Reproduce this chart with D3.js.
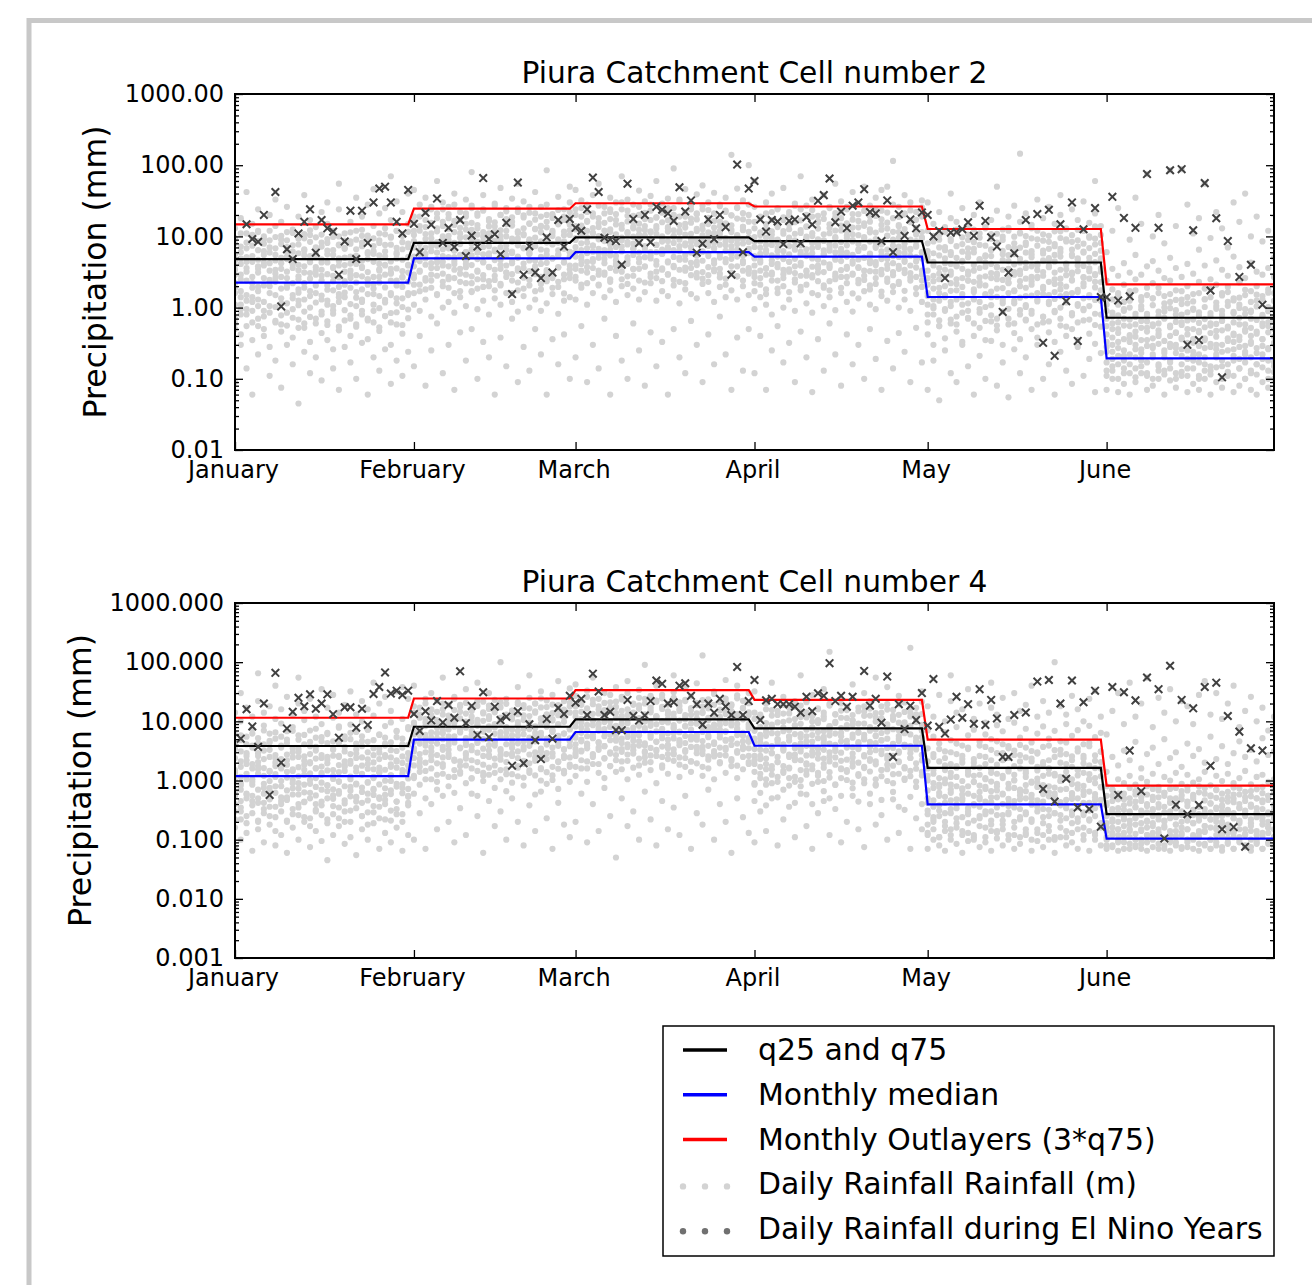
<!DOCTYPE html>
<html>
<head>
<meta charset="utf-8">
<script src="https://cdn.jsdelivr.net/npm/d3@7"></script>
<style>
  body { margin: 0; background: #fff; }
  svg { font-family: "DejaVu Sans", sans-serif; }
</style>
</head>
<body>
<svg id="chart" width="1312" height="1285"></svg>
<script>
// month ticks (day of year, 0 = 1 January)
const months = ["January", "February", "March", "April", "May", "June"];
const monthStartDay = [0, 31, 59, 90, 120, 151];
const lastDay = 180;

// monthly statistics (mm), one value per month
const cell2Q75 = [4.8, 8.1, 9.7, 8.6, 4.3, 0.72];
const cell2Median = [2.24, 4.9, 6.0, 5.2, 1.41, 0.194];
const cell2Outlier = [14.8, 24.5, 29.2, 26.3, 12.7, 2.12];

const cell4Q75 = [3.83, 8.1, 10.8, 7.6, 1.64, 0.27];
const cell4Median = [1.19, 4.9, 6.6, 3.87, 0.395, 0.104];
const cell4Outlier = [11.5, 24.3, 33.8, 23.1, 4.89, 0.82];

// daily rainfall (mm): row i holds the values plotted on day i
const cell2Daily = [
  [.09,.5,.7,1.6,2.2,3.9,4.6,8,13],[.3,.42,1.1,1.4,2.9,6,7.2,18],[.14,.8,.95,2.4,3.2,5.1,11,42],[.06,.35,.62,1.2,1.9,4.4,9.6,15],
  [.22,.55,1.3,1.7,3.5,3.8,6.4,12,24],[.4,.75,.9,2.6,5.5,7.9,10],[.11,.28,1.05,2,2.3,4.2,8.8,20],[.18,.65,1.5,3,3.4,6.8,14,33],
  [.075,.46,.58,1.15,2.7,5,9,16],[.3,.85,1.9,2.1,4.8,6.1,11.5,26],[.16,.38,.72,1.35,3.6,7.5,12.5],[.045,.52,1.25,1.8,2.5,4,5.8,19],
  [.24,.6,.88,2.2,3.1,6.6,9.4,38],[.12,.33,1,1.45,4.6,5.3,10.5,17],[.2,.7,1.6,2.9,3.3,7,13.5],[.095,.44,.8,1.3,2.4,4.3,8.2,22],
  [.35,.57,1.1,2.05,5.6,6.3,15,30],[.14,.26,.92,1.75,2.8,3.7,9.8,12],[.07,.48,1.2,1.55,3.9,4.9,7.7,24,55],[.28,.66,1.4,2.35,3.2,6.9,11],
  [.17,.4,.78,1.9,2.6,5.2,8.5,16],[.1,.54,1.05,1.65,4.1,4.7,12,35],[.32,.9,1.3,2.75,3.6,7.3,10.2,19],[.06,.36,.7,2.1,2.5,5.7,9.1,28],
  [.2,.62,1.55,1.85,4.4,6.2,14,46],[.13,.47,.98,2.25,3.3,5.4,8.1,21],[.26,.76,1.18,2.9,4,7.6,13,25],[.085,.3,.84,1.5,3.1,3.5,9.9,17,70],
  [.18,.58,1.35,2.4,4.9,5.9,12,31],[.11,.43,1.02,1.95,2.7,6.6,10.8,22],[.24,.71,1.6,3.1,3.9,7.9,15,40],
  [.15,1.1,2.1,2.6,4.6,7,12,19,45],[.4,.9,1.7,3.3,5.6,6.4,14,28],[.08,1.3,2.4,4,4.9,9.2,17,35],[.25,.75,1.9,2.9,6.2,8.1,11,24],
  [.6,1.5,3.6,4.3,7.4,13,21,60],[.12,1,2,3,5.3,10,16,30],[.3,1.2,2.7,3.8,6.8,8.9,18,26],[.07,.85,1.6,4.5,5.1,11.5,14.5,40],
  [.45,1.4,2.3,3.5,7.9,9.6,22],[.18,1.05,2.9,4.1,6,12.5,19,33],[.5,1.7,2.2,5.4,6.6,10.5,15.5,27,80],[.1,.95,1.85,3.2,4.8,8.4,13,21],
  [.33,1.25,2.5,4.4,7.1,9.9,24,38],[.2,.8,2,3.7,5.8,11,16.5],[.06,1.35,2.8,3.4,6.5,8.7,13.8,29],[.38,1.1,2.15,4.7,5.5,10.2,20,48],
  [.15,1.6,3.1,3.9,7.6,12,17.5,25],[.7,1.2,2.4,4.2,6.1,9.3,14.2,34],[.09,.88,1.75,3.3,5.2,8,11.8,22,55],[.28,1.45,2.65,3.6,6.9,10.8,18.5,31],
  [.13,1,2.05,4.6,5.7,9.1,15,26],[.5,1.3,2.95,3.5,7.3,12.8,21,42],[.22,.9,1.8,4.1,5,8.5,13.5,19],[.06,1.15,2.35,3.1,6.3,9.8,16,28,85],
  [.36,1.55,2.6,4.9,7.8,11.2,20.5],[.16,.82,1.95,3.7,5.4,8.2,14.8,36],[.42,1.25,2.5,4.3,6.7,10.4,17,24],[.1,1.4,3,3.9,6,12.2,18,30,50],
  [.2,1.3,2.7,3.9,6,9.5,14,24,45],[.55,1.9,3.3,5.2,8,10.8,19,32],[.09,1.1,2.2,4.4,6.8,12,16.5,28],[.3,1.6,3.6,4.8,7.4,11,21,38],
  [.14,2.1,2.9,5.8,9.1,13.5,18,55],[.7,1.4,3.1,4.2,6.4,10.2,15.5,26],[.06,1.75,2.5,5.4,8.4,12.6,22,35],[.4,1.2,3.9,4.6,7.1,9.8,17,30],
  [.18,2,3.2,6.2,8.8,14.5,24,70],[.1,1.5,2.75,4.1,7.7,11.5,19.5,33],[.6,1.85,3.5,5.5,6.6,13,16,28],[.25,1.3,2.4,4.9,8.2,10.6,20,44],
  [.08,1.65,3.8,5.1,7,12.3,17.5,31],[.45,2.2,3,6,9.4,11.8,23,37],[.15,1.25,2.6,4.5,7.6,14,18.5,60],[.33,1.7,3.4,5.7,6.5,10,21.5,29],
  [.06,1.45,2.9,4.3,8.6,13,16.8,34],[.5,2.05,3.7,6.4,9.9,12.2,25,90],[.2,1.15,2.3,5,7.3,11.3,19,33],[.12,1.8,3.3,4.7,8,15,22,46],
  [.65,1.55,3.6,5.9,7.2,10.9,17.8,27],[.3,1.35,2.65,4.4,9,12.8,20.5,39],[.09,2.15,3.15,6.1,7.9,14.2,24,52],[.42,1.6,2.85,5.3,8.3,11.4,18.2,30],
  [.16,1.2,3.45,4.6,6.9,13.3,21,41],[.75,1.95,3,5.6,9.6,11.9,16.2,28],[.22,1.4,2.55,4.8,7.5,14.8,23,35],[.07,1.75,3.8,6.3,8.7,12.4,19.8,140],
  [.38,1.3,2.75,5.2,7.8,10.4,25,47],[.13,2,3.3,4.5,9.2,13.6,17.4,32],[.5,1.5,3,5.8,6.7,11.6,20,100],
  [.12,.95,2.2,3.1,5.3,8.4,13,26,60],[.4,1.4,2.6,4.6,6.9,10.5,18],[.07,1.1,1.8,3.6,5.9,9.6,15,30],[.25,.8,2.9,4.1,7.6,11.8,22,40],
  [.55,1.6,2.4,5.2,6.2,9,14.5,25],[.17,1,2,3.4,4.8,10.9,17,48],[.32,1.3,3.2,4.4,7.3,12.6,20],[.09,.9,2.5,3.8,6.5,8.6,15.8,29],
  [.46,1.75,2.8,5.6,8.1,11.2,24,70],[.2,1.15,2.1,3.3,5.5,9.3,13.6,27],[.065,.85,2.65,4.9,6.8,10.1,19,33],[.36,1.5,3.1,3.9,7.9,12.9,16.4],
  [.13,1.05,1.9,4.3,5.7,8.8,21,38],[.6,1.4,2.35,3.6,6.3,11.1,14.8,26],[.22,.92,3,4.7,7.4,9.8,18.6,55],[.08,1.6,2.7,5.4,6.1,12.1,22.5,31],
  [.42,1.2,2.2,3.5,5.9,9.5,15.2,24],[.16,.88,2.9,4.5,8.5,10.7,17.2,42],[.3,1.35,2.45,3.7,6.6,13.4,20.5,29],[.1,1.7,3.3,5,7.1,9.2,14.1,50],
  [.5,1.1,2.05,4.2,5.6,11.4,16.1,27],[.19,.95,2.6,3.2,6.9,8.3,19.4,35],[.07,1.45,3.4,4.8,7.7,12.4,23,45],[.34,1.25,2.3,4,5.4,10.3,15.6,50],
  [.14,1.65,2.85,5.3,6.4,9,18,115],[.44,1,2.15,3.5,7.2,11.5,14.4,26],[.24,1.3,3.05,4.4,5.8,12.7,21,38],[.09,.9,2.4,3.9,6.7,8.9,16.6,30],
  [.52,1.55,2.7,5.1,7.5,10.6,13.2,22],[.17,1.2,1.95,3.3,6,9.7,19,32],
  [.07,.42,.8,1.6,2.1,4.6,6.2,12,30],[.18,.3,1.05,1.3,2.8,3.9,8.5,15],[.05,.55,.66,1.9,2.5,5.4,10.5,22],[.25,.37,.95,1.5,3.4,4.2,7.1,13.5],
  [.12,.6,1.2,2.2,2.9,6,9.2,18,40],[.09,.46,.75,1.75,3.9,5,11.5,16],[.3,.33,1.1,1.4,2.6,4.4,7.8,25],[.15,.7,.9,2.4,3.2,5.8,8.9,14],
  [.06,.4,1.3,1.65,2.3,6.7,12.5,20],[.21,.52,.85,2.05,3.6,4.8,9.6,30],[.1,.35,1.02,1.55,2.75,5.2,7.4,13],[.34,.64,1.4,2.6,4.1,6.4,10.8,17],
  [.08,.48,.7,1.85,3,3.7,8.2,23,50],[.17,.3,1.15,1.35,2.45,5.6,9.9,12.5],[.055,.58,.96,2.25,3.5,4.5,13.2,19],[.26,.44,1.25,1.7,2.9,6.9,8,27],
  [.12,.36,.8,2,3.3,4.3,11,16,145],[.2,.68,1.08,1.45,2.55,5.9,7.6,21],[.07,.5,.9,2.35,3.8,5.1,9.4,14.5],[.3,.38,1.3,1.6,2.7,4.1,12,33],
  [.1,.62,.74,1.95,3.15,6.3,8.7,18],[.16,.45,1.2,1.5,3.7,4.7,10.2,26],[.06,.33,.86,2.15,2.5,5.5,7.3,15],[.24,.56,1,1.8,3.4,6.7,11.8,20,38],
  [.13,.4,1.35,1.55,2.85,4,9.1,13],[.085,.5,.78,2.4,3.1,5.3,8.4,24],[.28,.35,1.12,1.65,3.9,4.9,12.4,17],[.11,.66,.92,2,2.65,6.1,7.9,31],
  [.19,.43,1.05,1.4,3.25,4.4,10,15.5],[.065,.31,.82,2.3,2.95,5.7,9.3,21,60],[.23,.54,1.25,1.75,3.55,4.6,8.1,14],
  [.07,.13,.28,.42,.9,1.3,2.4,6],[.1,.19,.24,.6,.75,1.8,3.5,12],[.065,.16,.33,.5,1.1,1.5,2.8,25],[.085,.12,.21,.7,.95,2.1,4.2],
  [.06,.22,.38,.55,1.25,1.7,3.1,9],[.09,.14,.3,.46,.82,2.5,5.5,35],[.12,.18,.26,.65,1.05,1.4,2.9,15],[.07,.11,.35,.52,.78,1.9,3.8,75],
  [.08,.2,.29,.58,1.35,2.2,4.5,10],[.1,.15,.4,.48,.88,1.6,3.3,20],[.06,.13,.23,.72,1,1.45,2.6,8],[.095,.17,.31,.56,1.2,2.4,5,85],
  [.075,.12,.27,.44,.92,1.75,3.6,14],[.11,.21,.36,.62,.8,1.3,2.7,88],[.065,.14,.25,.5,1.15,2,4.1,28],[.085,.18,.32,.68,.97,1.55,3,11],
  [.07,.11,.22,.45,.86,2.3,6.5,18],[.1,.16,.37,.53,1.3,1.85,3.9,55],[.06,.13,.28,.6,.76,1.4,2.5,9.5],[.09,.2,.3,.47,1.05,2.1,4.6,22],
  [.075,.15,.24,.66,.9,1.6,3.4,13],[.11,.12,.34,.51,1.2,1.95,2.8,7],[.065,.18,.26,.43,.83,1.35,5.2,30],[.08,.14,.39,.58,1.1,2.25,3.7,16],
  [.1,.22,.29,.49,.95,1.5,2.6,40],[.07,.12,.33,.7,.87,1.7,4.3,10],[.06,.16,.23,.46,1.25,2,3.2,19],[.09,.19,.36,.55,.79,1.45,2.9,8.5],
  [.075,.13,.27,.62,1.02,1.8,3.6,12],[.1,.17,.31,.5,.93,1.6,2.7,5]
];

// further daily values (mm) for the same days, the dense core of the cloud
const cell2DailyMore = [
  [.6,1.1,1.9,2.9,3.4,5.6,9.5],[.8,.95,1.7,2.5,4.1,4.9,11],[.55,1.25,1.5,3.6,4.4,6.8,8.2],[.9,1.4,2.2,2.7,5.3,7.4,10.5],
  [.7,1.05,1.95,3.1,4.7,8.6,11.5],[.5,1.2,2.05,3.9,4.3,6.2,9.1],[.85,1.6,2.45,3.3,5.9,7,12],[.62,1.02,2.3,2.6,4.6,5.5,9.8],
  [.78,1.35,1.85,3.5,4.2,7.8,10.2],[.56,1.15,2.6,3.2,5.2,7.1,8.8],[.95,1.5,2.2,4.05,4.9,6.1,11.2],[.68,1.08,1.62,2.75,3.35,7.7,9.3],
  [.52,1.3,1.9,3.8,5.4,6.3,10.8],[.74,1.7,2.55,3.05,4.35,8.4,12.2],[.6,1.18,2.05,3.7,5.1,5.8,9.7],[.88,1.48,2.8,3.4,4.75,7.2,10.6],
  [.64,1.25,1.78,2.95,4.3,8.1,9.2],[.82,1.05,2.35,3.6,5.5,6.4,11.7],[.54,1.4,1.95,2.65,4.5,7.5,10],[.92,1.62,2.1,3.95,5.05,6.7,8.7],
  [.7,1.12,2.9,3.3,4.15,7.9,11.4],[.58,1.38,2.25,2.85,5.35,6.6,9],[.8,1.2,1.8,3.75,4.55,8.2,12.4],[.66,1.55,2.5,3.15,4.8,6,10.3],
  [.9,1.1,2.15,2.7,5.7,7.3,9.4],[.53,1.45,2.7,3.45,4.1,8.8,11],[.76,1.28,1.92,3.9,5.25,6.15,10.7],[.62,1.6,2.4,3,4.45,7.65,9.6],
  [.86,1.15,2.05,3.55,5.6,6.9,12],[.57,1.35,2.65,3.25,4.7,8.3,10.1],[.94,1.5,2.3,4,5.15,7.05,11.6],
  [1.6,2.9,3.8,5.2,8.6,10.5,16],[2.1,3.2,4.5,6.1,7.8,12,19],[1.8,2.6,5.7,6.9,10.8,13.5,22],[2.4,3.6,4.2,7.2,9.4,15.5,26],
  [1.55,2.8,4.8,5.9,8.3,11.8,18],[2.3,3.9,4.4,6.6,9,14,24],[1.9,2.5,5.1,7.6,10.2,12.8,20.5],[2.6,3.4,4.1,6.3,8.1,16.5,28],
  [1.7,3,5.5,7.8,11,13.2,17],[2.2,3.7,4.6,6,9.7,15,21],[1.65,2.75,3.95,7.9,8.8,12.4,25],[2.5,3.3,5.9,6.7,10.6,14.4,19.5],
  [1.95,2.85,4.3,5.6,8.5,11.5,23],[2.35,3.75,5.3,7.3,9.9,13.8,17.5],[1.75,2.45,4.65,6.2,11.8,15.8,27],[2.05,3.5,4,7.05,8.95,12.2,20],
  [2.7,3.1,5.4,6.45,10,14.8,22.5],[1.6,2.95,4.45,5.8,8.4,16,18.5],[2.25,3.55,5,7.5,9.3,11.2,24.5],[1.85,2.65,4.15,6.8,10.4,13,19.8],
  [2.45,3.25,5.75,6.25,8.7,15.2,21.5],[1.7,3.8,4.55,7.4,9.6,12.6,17.2],[2.15,2.7,5.15,6.55,11.4,14.1,26],[2.55,3.35,4.25,5.5,8.2,13.4,20],
  [1.9,3.05,4.9,7.7,10.1,12,18.2],[2.3,3.65,5.6,6.35,9.1,16.2,23.5],[1.58,2.9,4.35,7.15,8.55,11.7,19],[2.6,3.45,5.25,6.05,10.5,14.6,22],
  [2.4,3.5,5.2,7.1,8.9,12.5,20],[2.1,4.1,4.7,6.4,10.5,14.2,25],[3.1,3.7,5.8,8.2,9.7,16,22],[2.6,4.4,6.1,7.4,11.2,13.1,19],
  [2.05,3.3,5,6.7,10.1,15.4,27],[2.9,4.8,5.6,8.6,9.3,12.1,21],[2.3,3.6,6.5,7.7,11.6,17.5,24],[3.3,4.1,5.3,8.9,10.7,14.7,20.5],
  [2.5,3.9,6.2,7.2,9.6,12.8,30],[2.15,4.6,5.1,8.3,11,16.2,23],[2.8,3.45,6.8,7.9,9.9,13.7,19.5],[3.5,4.3,5.9,8.7,12.4,15.1,26],
  [2.25,3.75,6.4,7.3,10.3,14,21.5],[2.7,4.9,5.45,9.2,11.4,17,28],[3.2,4,6,7.6,10.9,12.9,18.5],[2.35,3.55,5.7,8.45,9.5,15.8,22.5],
  [2.95,4.45,6.6,7.05,11.7,13.5,25],[2.45,3.85,5.15,8.1,10.2,16.8,20],[3.4,4.7,6.3,9,12,14.4,31],[2.2,3.65,5.5,7.5,10.6,13.3,19],
  [2.85,4.25,6.9,8.4,9.2,15.6,24],[3.05,3.95,5.35,7.8,11.9,17.3,21],[2.55,4.55,6.15,8.8,10.4,12.6,27],[2.3,3.7,5.8,7.35,9.8,14.9,23.5],
  [3.25,4.15,6.7,8.15,11.1,16.4,20.8],[2.65,3.5,5.05,7.65,10.8,13.9,26.5],[2.1,4.35,6.25,8.55,9.45,15.2,22],[3.1,4.85,5.65,7.25,11.5,14.3,19.8],
  [2.75,3.8,6.55,8.95,10.1,17.8,25.5],[2.4,4.2,5.4,7.95,12.2,13.6,21.2],[3.35,3.6,6.05,8.35,9.7,16.1,28],
  [1.7,2.7,3.9,4.9,7.1,9.8,16],[2.1,3.3,4.3,5.7,8.5,11.4,19],[1.55,2.9,3.5,6.4,7.6,12.8,21],[2.4,3.1,4.6,5.4,9.3,10.6,17],
  [1.85,3.7,4.1,6.9,8.2,13.5,24],[2.6,2.95,5.1,6.2,7.9,11.9,18.5],[1.65,3.45,4.4,5.6,9.6,14.7,22],[2.25,3.05,4.85,7.3,8.8,10.9,27],
  [1.95,3.9,4.25,6.05,7.45,12.3,16.8],[2.8,3.2,5.3,6.6,9.9,13.8,20],[1.6,2.85,3.75,5.8,8.05,11.1,23.5],[2.35,3.55,4.7,7.1,9.1,15.5,19.5],
  [2.05,3.15,5.5,6.35,8.65,10.7,17.6],[1.75,3.8,4.05,6.85,7.75,13.1,25],[2.5,2.75,4.95,5.95,9.45,12.1,21.2],[1.9,3.35,4.5,6.7,8.35,14.2,18],
  [2.7,3.75,5.2,7.5,10.3,11.7,26],[1.58,3,4.15,5.5,8.9,13.3,20.6],[2.2,3.6,4.75,6.25,7.85,10.4,16.5],[2.45,2.8,5.05,6.95,9.75,15.2,22.8],
  [1.8,3.25,4.6,5.75,8.45,12.6,19.2],[2.15,3.95,4.35,7.25,9.2,11.3,24],[1.68,2.95,5.4,6.15,8.1,14.5,17.4],[2.55,3.5,4.8,6.55,10.1,12.9,21.6],
  [2,3.15,4.2,7.45,8.75,11.6,28],[2.3,3.85,5.15,5.9,9.55,13.9,18.8],[1.72,3.4,4.65,6.8,7.95,10.8,20.4],[2.65,3.05,5.35,6.45,9.05,15.8,23.2],
  [1.88,3.65,4.45,7.15,8.6,12.2,17.1],[2.4,2.9,4.9,5.85,9.35,11.5,25.5],
  [.62,1.1,1.45,2.6,3.3,5.2,8],[.8,.98,1.85,2.35,4.4,5.8,10.2],[.55,1.25,1.6,3,3.6,7,9],[.9,1.4,2,2.75,4.9,6.4,11.5],
  [.68,1.05,1.72,3.2,4.1,5.5,8.6],[.58,1.3,2.15,2.5,3.8,7.3,12.5],[.85,1.55,1.95,3.5,4.55,6.1,9.7],[.72,1.15,2.4,2.9,5.1,6.8,10.6],
  [.6,1.35,1.8,3.3,3.95,5.95,8.3],[.95,1.2,2.25,2.65,4.7,7.6,11],[.65,1.5,2.05,3.75,4.3,5.4,13.5],[.78,1.08,1.68,3.05,5.3,6.6,9.3],
  [.56,1.42,2.5,2.85,3.7,7.9,10.9],[.88,1.25,1.88,3.4,4.65,6.25,8.9],[.7,1.6,2.2,2.6,5.45,7.1,12],[.6,1.15,1.75,3.15,4.05,5.65,9.9],
  [.92,1.38,2.35,2.95,4.85,6.95,11.3],[.66,1.02,1.9,3.6,4.25,8.2,10.1],[.82,1.48,2.1,2.7,5.6,6.2,13],[.58,1.22,2.6,3.35,3.9,7.4,9.1],
  [.75,1.55,1.82,2.8,4.6,5.75,10.7],[.64,1.12,2.3,3.85,4.95,6.7,8.4],[.9,1.32,1.65,3.1,4.45,7.8,11.8],[.7,1.45,2.12,2.55,5.2,6.05,9.5],
  [.54,1.18,1.98,3.45,4.15,8.5,12.6],[.84,1.6,2.45,2.95,5.55,6.5,10.4],[.62,1.06,1.78,3.25,4.75,7.2,8.8],[.96,1.35,2.2,2.68,3.85,5.9,11.9],
  [.68,1.5,2.55,3.55,5,6.85,9.6],[.57,1.28,1.92,2.85,4.35,7.7,13.8],[.8,1.4,2.28,3.2,4.9,6.3,10.5],
  [.11,.17,.24,.33,.55,.7,1.1],[.13,.15,.3,.38,.5,.85,1.3],[.1,.21,.27,.44,.62,.78,1.6],[.14,.18,.25,.36,.56,.9,1.2],
  [.12,.16,.33,.41,.68,1,1.45],[.105,.2,.26,.39,.58,.74,1.75],[.15,.19,.23,.35,.52,.95,1.25],[.12,.17,.29,.46,.64,.82,1.5],
  [.1,.22,.27,.37,.55,1.08,1.35],[.13,.16,.31,.43,.6,.76,1.9],[.115,.2,.25,.34,.7,.88,1.15],[.14,.18,.28,.4,.53,.98,1.55],
  [.1,.23,.3,.45,.63,.8,1.28],[.125,.16,.26,.38,.57,1.12,1.7],[.11,.19,.32,.42,.66,.86,1.4],[.14,.21,.24,.36,.5,.93,1.22],
  [.1,.17,.29,.47,.61,.77,1.6],[.13,.2,.27,.35,.69,1.02,1.32],[.115,.15,.31,.44,.56,.84,1.85],[.145,.22,.26,.39,.59,.96,1.18],
  [.1,.18,.3,.48,.65,.79,1.48],[.125,.16,.25,.37,.54,1.06,1.65],[.11,.21,.33,.41,.62,.87,1.26],[.14,.19,.28,.35,.72,.99,1.38],
  [.1,.17,.24,.46,.58,.81,1.78],[.13,.2,.31,.4,.52,.91,1.2],[.115,.16,.27,.43,.67,1.04,1.52],[.145,.22,.29,.36,.6,.75,1.3],
  [.1,.18,.26,.45,.55,.89,1.62],[.125,.15,.32,.39,.63,.97,1.24]
];

const cell4Daily = [
  [.07,.16,.3,.55,1.2,1.5,3.4,6,14],[.1,.22,.45,.7,.9,2.1,4.8,10,30],[.13,.19,.6,1.05,1.9,2.6,5.5,17],[.065,.28,.38,.85,1.6,3.9,7.5,12],
  [.15,.2,.5,1.3,1.75,2.9,4.2,22,65],[.09,.33,.42,.75,2.3,3.2,8.5,14],[.18,.25,.65,.98,1.45,4.4,6.2,18],[.08,.14,.36,1.15,2,2.7,5.1,11,40],
  [.12,.3,.52,.8,1.7,3.6,9.2,16],[.06,.21,.47,1.4,2.2,4.9,6.8,26],[.16,.27,.74,1.02,1.55,3,8,13],[.1,.35,.58,.9,2.5,3.4,5.8,20,55],
  [.2,.24,.44,1.25,1.85,4.1,10.5,15],[.075,.17,.62,.88,2.05,2.8,7,24],[.14,.32,.4,1.1,1.6,3.7,5.3,12],[.095,.26,.7,1.35,2.4,4.6,9,35],
  [.045,.19,.5,.82,1.95,2.5,6.4,17],[.12,.37,.56,1.2,1.5,3.3,11.5,28],[.17,.23,.66,.95,2.6,4.3,7.8,14],[.085,.3,.46,1.45,1.8,3.1,5.6,19],
  [.11,.2,.78,1.05,2.15,5,8.8,32],[.055,.34,.53,.86,1.65,2.85,6.6,13],[.15,.25,.42,1.3,2.45,3.8,10,22],[.1,.18,.6,.92,1.9,4.5,7.2,16],
  [.19,.29,.72,1.15,1.55,3.5,12.5,45],[.07,.36,.49,1.38,2.3,2.95,5.9,20],[.13,.22,.57,.99,2.7,4.2,8.3,26],[.09,.31,.68,1.22,1.7,3.25,9.6,15],
  [.16,.27,.44,.88,2.1,5.4,6.9,32],[.065,.2,.75,1.5,2.55,3.6,11,38],[.12,.38,.55,1.08,1.8,4,7.4,24],
  [.1,.6,1.2,2.4,3.1,6,9.5,18,40],[.28,.85,1.7,2,4.2,7.5,13],[.07,.5,1.45,3,5.2,5.9,11,24],[.4,1.05,2.2,3.6,4.5,8.8,16,30],
  [.15,.7,.95,2.7,6.3,10.5,14.5],[.55,1.3,1.9,3.3,5,7.1,20,55],[.2,.8,2.5,4,4.8,9.3,12.5],[.09,.62,1.15,2.15,5.6,8.1,15.5,26],
  [.34,1.4,1.75,3.5,6.8,11.2,19],[.12,.9,2.35,2.9,4.4,7.8,13.5,35],[.6,1.1,1.6,3.8,5.4,9.8,17.5],[.25,.55,2.05,4.3,6.1,8.4,22,45],
  [.06,.98,1.35,2.6,5,10.2,14.2],[.45,1.25,2.7,3.2,7.2,12.2,18.5,30],[.17,.75,1.8,3.9,4.7,9,16.5],[.3,1.5,2.25,3.4,6.6,11.6,21,100],
  [.1,.66,1.28,2.8,5.3,7.6,13,24],[.5,.92,2.6,4.1,5.8,10.8,15],[.2,1.18,1.65,3.1,6.9,8.6,19.5,38],[.08,.82,2.15,3.7,4.6,12.6,16.8],
  [.38,1.35,1.95,4.5,7.4,9.6,25,60],[.14,.58,2.45,3,5.5,8.2,14,20],[.65,1,1.55,3.45,6.4,11,17.2,32],[.23,.88,2.9,4.2,5.1,9.1,22.5],
  [.07,1.22,1.7,2.55,7,10.3,13.8,28],[.42,.72,2.1,3.85,5.7,8.9,18.8,48],[.18,1.45,2.4,3.3,6.2,12.9,15.8],[.11,.95,1.85,4.6,4.9,7.3,20.5,36],
  [.2,1.2,2.6,3.4,6.1,9.4,14,27,42],[.6,1.6,3.2,4.9,7.8,11,19],[.09,.95,2.1,4.2,5.6,12.5,16.5,33],[.4,1.9,2.8,5.3,8.6,10.3,23,55],
  [.14,1.35,3.6,4.4,6.9,13.6,18],[.75,1.1,2.4,3.8,7.4,9.7,15.5,30],[.25,1.75,3,6,8.1,14.8,21],[.05,1.4,2.2,4.7,5.9,11.5,17.5,38],
  [.5,2.1,3.4,5.1,9.2,12.2,26],[.17,1.05,2.75,4.1,7.1,10.6,16,48],[.3,1.65,3.8,5.5,6.5,13.4,20],[.1,1.25,2.35,4.6,8.4,11.3,18.6,34],
  [.65,2,3.1,3.9,7.7,9.9,24,90],[.22,1.5,2.65,5.8,6.3,14.2,17],[.08,.9,3.3,4.5,8.9,12,21.5,40],[.45,1.8,2.5,5.2,7,10.1,16.2,28],
  [.15,1.3,3.5,4,9.6,13.1,19.2],[.35,2.15,2.9,6.3,7.5,11.7,25,60],[.12,1.15,2.45,4.8,6.7,15,18.2],[.55,1.7,3.25,4.3,8.3,10.8,22,36],
  [.07,1.4,2.1,5.6,7.2,12.9,16.8],[.28,1.95,3.7,4.9,9.1,11.1,20.5,44],[.18,1.2,2.8,3.7,6.6,13.8,17.8,130],[.7,1.6,2.55,5.4,8,10.4,23.5],
  [.1,1.05,3.15,4.4,7.3,12.4,19,32],[.4,2.05,2.7,6.1,8.7,11.9,15.8],[.2,1.35,3.55,4.7,6.8,14.5,21.8,50],[.06,1.75,2.3,5,9.4,10.9,18.4],
  [.5,1.1,2.95,4.2,7.6,13.2,24.5,40],[.24,1.55,3.4,5.7,6.4,11.4,16.6],[.13,1.9,2.6,4.5,8.2,12.8,20.2,30],
  [.09,.45,.85,1.9,2.6,5.1,7.4,14,32],[.3,.62,1.3,2.3,4.4,5.9,11],[.14,.38,1.05,1.55,3.2,6.6,9.3,20],[.5,.9,1.75,2.9,3.8,8,15.5,45],
  [.08,.52,1.15,2.05,4.9,6.2,12.8],[.22,.7,1.45,3.4,4.1,9.8,13.5,26],[.36,1.1,1.65,2.5,5.5,7.1,17],[.11,.42,.95,2.75,3.5,8.6,10.9,22],
  [.6,.8,2.2,3.1,6.1,11.8,18.5,60],[.17,.58,1.25,1.85,4.6,5.6,14.2],[.07,.4,1.55,2.65,3.7,7.6,9.9,28],[.28,.95,1.35,3.6,5.2,10.5,16],
  [.45,.66,1.9,2.35,4.3,6.8,12.2,35],[.12,.5,1.12,3,5.8,8.3,19.8,150],[.33,.86,2.45,3.3,4,9.4,13],[.09,.55,1.6,2.15,6.4,7.7,15.2,24],
  [.2,1.02,1.4,3.9,4.7,11.3,17.8],[.55,.74,2,2.85,5.3,8.8,10.4,42],[.15,.44,1.2,3.45,4.2,6.5,14.8],[.075,.9,1.7,2.55,5.9,9.2,18,30],
  [.4,.6,2.3,3.7,4.5,12.5,16.4],[.18,.82,1.05,2.1,5.6,7.3,11.6,55],[.26,.47,1.5,3.2,4.8,10,13.9],[.1,.98,1.85,2.6,6.7,8.1,19.5,38],
  [.48,.64,1.28,3.55,4.1,11,15.6],[.13,.36,2.1,2.95,5.1,7,12.9,27],[.32,1.08,1.6,4,6.3,9.6,20.8],[.07,.53,1.18,2.4,3.4,8.4,14,175],
  [.23,.78,1.95,3.75,4.6,10.7,16.9],[.15,.4,1.4,2.7,5.4,6.9,13.3,32],
  [.07,.13,.31,.42,1,1.6,3.5,7,18],[.1,.2,.24,.75,1.3,2.5,5.5,12],[.08,.11,.38,.55,.85,2.1,4.2,28],[.065,.17,.28,.9,1.5,3.1,6.5,10],
  [.12,.15,.46,.62,1.15,1.9,4.8,22,60],[.085,.23,.34,.8,1.75,2.8,8,14],[.06,.14,.5,.7,.98,2.3,3.9,16],[.095,.19,.27,.6,1.4,3.4,5.8,35],
  [.11,.12,.4,.95,1.2,2,7.2,11],[.075,.25,.36,.52,1.65,2.6,4.5,20],[.09,.16,.44,.78,1.05,3.7,6,9.5],[.065,.21,.3,.66,1.35,2.2,5,17,45],
  [.13,.14,.52,.88,1.85,2.9,8.6,13],[.08,.18,.26,.58,1.1,4.1,6.8,25],[.1,.27,.41,.74,1.55,2.4,3.8,11],[.07,.12,.35,1,1.25,3.2,9.5,30],
  [.085,.22,.48,.64,2.1,2.7,5.3,15],[.12,.15,.29,.84,1.45,3.6,7.5,19],[.065,.2,.39,.57,.96,2.35,4.4,40],[.095,.13,.46,.92,1.7,3,6.2,12],
  [.075,.24,.33,.69,1.2,2.05,8.2,22],[.1,.17,.54,.8,1.6,3.9,5.1,14],[.06,.11,.28,.6,1.3,2.5,6.9,100],[.11,.26,.43,.98,1.15,3.3,4.6,18],
  [.08,.14,.37,.72,1.9,2.8,9,13],[.09,.19,.3,.56,1.05,2.2,5.7,27],[.07,.23,.5,.86,1.5,3.5,7.1,16],[.12,.16,.26,.66,1.35,2.6,4.1,10],
  [.065,.21,.42,1.02,1.8,4.3,8.4,24],[.1,.13,.34,.59,1.1,2.15,5.4,33],[.08,.18,.47,.77,1.6,3.1,6.4,12],
  [.07,.1,.16,.26,.42,.8,1.4,6],[.08,.13,.2,.33,.55,.7,2.5,15],[.065,.12,.15,.28,.48,1.05,1.8,30],[.09,.11,.22,.38,.6,.9,3.2,9],
  [.07,.14,.18,.3,.5,1.2,2.2,45],[.075,.1,.24,.36,.66,.85,4.5,12],[.085,.15,.19,.27,.45,1.1,1.6,20],[.065,.12,.21,.4,.58,.95,2.8,55],
  [.1,.13,.17,.31,.72,1.3,3.6,8],[.07,.11,.25,.35,.52,.78,1.9,25],[.08,.16,.2,.29,.62,1.15,5,14],[.065,.1,.23,.42,.5,1,2.4,35],
  [.09,.14,.18,.34,.75,1.35,3,10],[.07,.12,.26,.3,.56,.88,1.7,22],[.075,.15,.21,.44,.68,1.25,4.2,18],[.1,.11,.19,.32,.49,.92,2.6,9],
  [.065,.13,.24,.37,.8,1.05,3.4,28],[.085,.14,.17,.28,.6,1.4,2,48],[.07,.1,.22,.41,.54,.83,5.5,13],[.08,.16,.2,.33,.7,1.2,2.3,30],
  [.065,.12,.25,.36,.47,.98,3.8,11],[.09,.13,.18,.3,.64,1.3,1.9,20],[.07,.11,.23,.43,.58,.9,2.9,40],[.1,.15,.2,.35,.73,1.1,4.6,8],
  [.075,.12,.27,.31,.52,1.45,2.5,15],[.065,.14,.19,.39,.66,.86,3.3,26],[.085,.1,.24,.34,.5,1.15,2.1,10],[.07,.13,.21,.46,.78,1.25,5.2,17],
  [.09,.16,.18,.29,.55,.95,2.7,7],[.075,.11,.26,.37,.62,1.05,3.1,12]
];

const cell4DailyMore = [
  [.22,.4,.65,1,1.35,2.4,4.4],[.3,.35,.82,1.15,1.7,3.1,5.8],[.25,.5,.58,1.3,2.2,2.9,4.1],[.45,.55,.95,1.05,1.9,3.6,6.2],
  [.21,.42,.7,1.55,2.05,2.6,5.2],[.28,.6,.88,1.2,1.62,4.1,7],[.36,.48,.75,1.4,2.5,3.3,4.7],[.24,.62,.8,1.28,1.75,2.35,6.5],
  [.4,.45,.98,1.6,2.3,3.9,5.5],[.2,.52,.68,1.12,1.85,2.75,4.3],[.33,.58,.9,1.45,2.45,3.5,6.9],[.26,.4,.73,1.18,1.68,3.05,4.9],
  [.43,.63,.85,1.52,2.15,2.55,5.9],[.23,.5,1.02,1.32,1.95,3.8,4.5],[.3,.56,.78,1.62,2.35,3.2,7.5],[.38,.44,.92,1.25,1.72,2.7,5.4],
  [.22,.66,.84,1.48,2.25,4.3,6.1],[.27,.49,.71,1.06,2.62,3.4,4.6],[.35,.6,.97,1.38,1.82,2.5,8.2],[.2,.41,.8,1.7,2.1,3.7,5],
  [.31,.54,.67,1.16,1.92,2.8,6.4],[.44,.51,.89,1.42,2.4,3.35,4.2],[.25,.64,.76,1.26,1.78,4.6,5.6],[.29,.46,.94,1.58,2.28,3,7.2],
  [.37,.57,.69,1.1,2.02,2.68,4.8],[.23,.52,.86,1.35,1.65,3.45,6],[.4,.47,.74,1.52,2.5,3.9,5.3],[.21,.59,.98,1.22,1.88,2.45,4.4],
  [.33,.44,.79,1.65,2.2,3.15,6.7],[.27,.61,.87,1.3,1.98,4.1,5.1],[.42,.53,.72,1.45,2.32,2.9,8],
  [1.1,1.8,3.5,4.5,6.6,8.6,14],[1.4,2.3,2.8,5.8,7,11.5,17],[1.05,2,3.9,4.6,8.3,9.6,20],[1.6,2.6,3.1,5.3,6.5,12.8,15.5],
  [1.25,1.95,4.2,5.1,7.8,9.2,22],[1.7,2.45,3.7,6.3,8.8,13,16],[1.15,2.8,3.3,5.6,7.3,10.8,19],[1.5,2.25,4.4,4.95,9.5,11.4,24],
  [1.3,2.1,3.6,6.5,7.6,14.5,17.8],[1.8,2.7,4,5.2,8.5,9.9,20.5],[1.08,2.2,3.25,5.9,6.9,12,15],[1.45,2.95,4.5,5.4,9,10.6,18.2],
  [1.2,1.85,3.45,6.7,7.5,13.6,21.5],[1.65,2.5,3.95,5.05,8.2,11,16.2],[1.35,2.35,4.35,6.15,7.9,14.2,23],[1.05,2.65,3.15,5.55,9.3,10.2,17.2],
  [1.55,2.05,4.1,6.45,8,12.5,19.8],[1.28,2.85,3.55,4.85,7.2,11.8,15.2],[1.75,2.4,4.25,5.75,9.7,13.2,21],[1.12,1.9,3.35,6.05,7.4,10.5,18.8],
  [1.48,2.75,3.85,5.3,8.6,12.3,16.6],[1.22,2.15,4.6,6.35,7.7,14.8,20],[1.62,2.55,3.05,5.65,9.2,11.2,24.5],[1.38,2.3,4.05,4.9,8.1,13.1,17.4],
  [1.02,2.9,3.6,6.6,7.1,10.9,19.2],[1.58,2.05,4.45,5.45,8.9,12.7,15.8],[1.32,2.6,3.4,6.2,9.8,11.6,22],[1.7,2.45,3.8,5.15,7.55,14,18],
  [1.7,2.9,4.1,5.3,8.2,12,18],[2.2,3.1,4.6,6.4,9.6,14.5,22],[1.6,3.5,3.9,7.1,8.7,11.3,26],[2.5,2.7,5.2,6,10.4,13.4,19.5],
  [1.9,3.3,4.4,7.6,9.1,15.8,24],[2.35,3.8,5.6,6.6,11.1,12.6,20.5],[1.75,2.85,4.8,8.1,9.9,17,28],[2.7,3.45,5,6.9,8.4,13.8,21.5],
  [1.55,3.05,4.3,7.3,10.7,15.1,23.5],[2.15,3.65,5.45,6.2,9.3,12.9,30],[2.85,3.25,4.7,7.8,11.6,14.1,19],[1.8,3.9,5.8,6.45,8.9,16.3,25],
  [2.45,2.95,4.25,7,10.1,13.1,20],[2.05,3.55,5.3,8.4,9.4,15.4,27],[2.6,3.15,4.55,6.75,11.9,12.3,22.5],[1.65,3.75,5.9,7.45,9.75,17.6,24.5],
  [2.3,2.8,4.9,6.3,10.9,14.8,19.8],[2.75,3.35,5.15,7.9,8.6,13.5,31],[1.85,3.95,4.45,6.55,10.3,16,21],[2.4,3.05,5.65,8.2,11.3,12.7,23],
  [2.1,3.7,4.95,7.15,9.2,15.6,26.5],[2.9,3.4,5.5,6.05,10.6,13.6,18.8],[1.7,3.2,4.65,7.7,9.55,14.4,22.8],[2.25,3.85,5.75,6.85,11.5,16.6,20.2],
  [2.55,2.9,4.15,8,8.8,12.8,29],[1.95,3.6,5.35,7.25,10.2,15.3,21.2],[2.65,3.3,4.85,6.65,9.35,13.3,24.2],[2.15,4,5.05,8.5,11.8,14.9,19.4],
  [1.78,3.15,5.85,7.05,9.05,12.4,27.5],[2.5,3.75,4.6,6.35,10.8,16.9,22.2],[2.05,3.5,5.25,7.55,8.95,14.2,20.6],
  [.9,1.4,2.2,3.4,4.5,6.9,11],[1.1,1.7,2.6,3.3,5.2,8.1,13],[.85,1.9,2.35,4.1,5.7,7.5,16],[1.25,1.55,2.9,3.7,6.3,8.8,12.5],
  [.95,2.05,2.5,4.4,5,9.6,15],[1.35,1.75,3.2,3.55,6.8,7.8,19],[.82,1.6,2.75,4.7,5.5,10.4,13.6],[1.15,2.2,2.4,3.95,6.1,8.4,17.5],
  [1.02,1.5,3.5,4.25,5.35,9.1,14.2],[1.45,1.95,2.65,3.85,7.2,11.6,21],[.88,1.8,3.05,4.55,5.85,7.9,12.2],[1.2,2.35,2.85,3.45,6.6,9.4,16.5],
  [.98,1.65,3.3,4.85,5.45,10.9,14],[1.38,2.1,2.55,4.2,7,8.2,18.5],[.84,1.85,3.15,3.75,6.2,9.8,13.2],[1.1,1.55,2.95,4.6,5.6,11.5,20],
  [1.5,2.25,3.6,4.05,7.5,8.6,15.5],[.92,1.72,2.45,3.65,5.95,10.2,12.8],[1.28,2,3.4,4.45,6.45,9.2,17],[1.05,1.62,2.7,4.95,5.25,12.4,14.6],
  [1.42,2.15,3,3.9,6.95,8,22],[.86,1.88,3.25,4.3,5.75,9.9,13.8],[1.18,1.5,2.8,4.75,6.35,11.2,18],[1.55,2.3,3.55,3.6,5.1,8.9,15.8],
  [.9,1.78,2.6,4.15,7.35,10.6,12.4],[1.3,2.05,3.1,4.65,5.65,9.5,19.5],[1.02,1.68,3.7,4,6.65,8.3,14.4],[1.45,2.4,2.9,3.8,6,12.1,16.8],
  [.96,1.58,3.35,4.5,5.3,9.7,13.1],[1.22,2.18,2.7,4.35,7.1,8.7,21.5],
  [.12,.18,.27,.5,.68,1.2,2.1],[.15,.22,.36,.46,.9,1.5,2.8],[.11,.25,.31,.62,.78,1.1,3.4],[.14,.2,.42,.53,1.05,1.8,2.4],
  [.1,.28,.33,.7,.85,1.35,3],[.16,.19,.39,.48,1.15,1.65,4.2],[.12,.24,.46,.58,.74,2,2.6],[.13,.3,.34,.8,1.25,1.45,3.6],
  [.1,.21,.38,.55,.94,1.7,2.3],[.17,.23,.48,.64,.82,1.25,3.9],[.11,.27,.3,.72,1.1,1.9,2.5],[.14,.18,.43,.52,.96,1.55,3.3],
  [.105,.26,.35,.68,.79,1.3,4.6],[.15,.21,.4,.6,1.2,2.2,2.9],[.12,.29,.37,.49,.88,1.42,3.5],[.16,.2,.45,.75,1.02,1.75,2.7],
  [.11,.24,.33,.56,.7,1.6,4],[.13,.27,.5,.66,1.15,1.32,2.45],[.1,.22,.41,.5,.92,2.1,3.15],[.15,.3,.36,.78,1.08,1.48,2.85],
  [.12,.19,.44,.59,.84,1.85,3.7],[.14,.25,.32,.63,1.3,1.58,2.2],[.1,.28,.47,.54,.76,1.22,3.25],[.16,.21,.38,.7,.98,2,2.75],
  [.11,.23,.34,.47,1.12,1.4,4.4],[.13,.26,.49,.61,.87,1.7,2.55],[.15,.2,.35,.73,1.22,1.52,3.1],[.1,.29,.42,.57,.81,1.95,2.35],
  [.14,.22,.31,.65,1.05,1.28,3.8],[.12,.25,.46,.52,.9,1.62,2.65],[.16,.19,.39,.77,1.18,2.05,3.05],
  [.08,.11,.14,.19,.25,.38,.55],[.075,.12,.16,.22,.3,.45,.7],[.09,.1,.15,.2,.27,.34,.6],[.07,.13,.17,.24,.32,.5,.48],
  [.085,.11,.15,.21,.28,.41,.75],[.08,.125,.18,.23,.35,.44,.58],[.07,.1,.14,.26,.31,.52,.65],[.09,.12,.16,.2,.29,.37,.8],
  [.075,.11,.19,.25,.33,.47,.53],[.085,.13,.15,.22,.26,.4,.68],[.07,.105,.17,.21,.36,.55,.62],[.09,.12,.14,.27,.3,.43,.72],
  [.08,.115,.18,.24,.34,.39,.5],[.075,.13,.16,.2,.28,.48,.66],[.09,.1,.15,.23,.37,.42,.78],[.07,.12,.19,.26,.31,.53,.57],
  [.085,.11,.14,.21,.27,.36,.63],[.08,.135,.17,.25,.33,.46,.74],[.07,.1,.16,.22,.29,.41,.56],[.09,.12,.15,.24,.35,.51,.69],
  [.075,.115,.18,.2,.3,.38,.6],[.085,.105,.16,.27,.32,.44,.52],[.07,.13,.14,.23,.28,.49,.76],[.09,.11,.19,.21,.34,.4,.58],
  [.08,.125,.15,.25,.3,.45,.64],[.075,.1,.17,.22,.36,.37,.54],[.09,.12,.14,.26,.29,.5,.71],[.07,.115,.18,.24,.33,.43,.61],
  [.085,.13,.16,.2,.27,.47,.55],[.08,.11,.15,.23,.31,.39,.67]
];

// El Nino years: [day, mm]
const cell2Nino = [
  [2,14.8],[3,9.2],[4,8.4],[5,20],[7,42],[8,1.04],[9,6.6],[10,4.8],[11,11],[12,16],[13,24],[14,5.9],[15,17],[16,13],[17,11.7],
  [18,2.9],[19,8.5],[20,23],[21,4.8],[22,23],[23,8.1],[24,30],[25,47],[26,50],[27,30],[28,16],[29,11],[30,45],[31,15],[32,6],
  [33,21.5],[34,14.6],[35,34],[36,8.1],[37,13.2],[38,7.1],[39,17],[40,5.3],[41,10.3],[42,7.2],[43,66],[44,9.2],[45,10.7],[46,5.6],
  [47,15.5],[48,1.55],[49,57],[50,2.9],[51,7.3],[52,3.1],[53,2.6],[54,9.7],[55,3.1],[56,17],[57,7.2],[58,17.6],[59,13.2],[60,12],
  [61,24],[62,67],[63,42],[64,9.6],[65,9.1],[66,8.6],[67,4],[68,55],[69,17.6],[70,8.1],[71,20],[72,8.3],[73,26],[74,23.7],[75,21],
  [76,16.5],[77,49],[78,22.3],[79,32],[80,5.9],[81,7.9],[82,17.3],[83,9.2],[84,20],[85,13.5],[86,2.9],[87,102],[88,6],[89,47],
  [90,60],[91,17.3],[92,11.7],[93,17],[94,16.2],[95,7.8],[96,16.5],[97,17.3],[98,8],[99,18.6],[100,14.7],[101,31.6],[102,38],
  [103,65],[104,15.8],[105,22.3],[106,13.1],[107,27],[108,30],[109,46],[110,22],[111,21],[112,8.6],[113,32],[114,6],[115,20.4],
  [116,10.2],[117,17.3],[118,13],[119,21.7],[120,20],[121,10],[122,12],[123,2.6],[124,11.3],[125,11.5],[126,12.6],[127,15.8],
  [128,10.2],[129,27],[130,16.5],[131,9.7],[132,7.2],[133,0.87],[134,3.1],[135,5.8],[137,17],[139,20.6],[140,0.32],[141,23.6],
  [142,0.21],[143,14.8],[144,1.23],[145,30],[146,0.34],[147,12.6],[149,25],[150,1.41],[151,1.4],[152,36],[153,1.26],[154,18.2],
  [155,1.44],[156,13.2],[158,75],[160,13.2],[162,85],[164,88],[165,0.3],[166,12.2],[167,0.35],[168,56],[169,1.74],[170,18],
  [171,0.105],[172,8.6],[174,2.7],[176,4],[178,1.1]
];

const cell4Nino = [
  [1,5.1],[2,16],[3,8.2],[4,3.7],[5,20],[6,0.57],[7,66],[8,2],[9,7.6],[10,14.5],[11,25],[12,18],[13,28.6],[14,16.3],[15,20],
  [16,28.6],[17,13.2],[18,5.3],[19,17.3],[20,17.3],[21,7.8],[22,16.3],[23,8.7],[24,29],[25,38],[26,67],[27,29.5],[28,33],[29,28],
  [30,33],[31,13.3],[32,6.9],[33,14.8],[34,10.4],[35,22],[36,9.6],[37,18.9],[38,11.5],[39,70],[40,9.3],[41,18.2],[42,5.9],[43,31],
  [44,5.4],[45,17.7],[46,10.5],[47,12],[48,1.78],[49,14.8],[50,1.95],[51,8.9],[52,4.8],[53,2.3],[54,11],[55,5.1],[56,16.8],
  [57,13.3],[58,27],[59,20.7],[60,24],[61,12.8],[62,64],[63,32],[64,12.8],[65,14.5],[66,7.1],[67,7.1],[68,23],[69,12.4],[70,10.3],
  [71,12.6],[72,22],[73,49],[74,43],[75,20],[76,21],[77,40],[78,44],[79,27],[80,19.4],[81,8.8],[82,20],[83,14],[84,24],[85,17.8],
  [86,12.8],[87,83],[88,12.8],[89,22],[90,50],[91,10.5],[92,22.6],[93,24],[94,19.5],[95,19.5],[96,19.5],[97,17.7],[98,14],[99,26],
  [100,14.8],[101,29.8],[102,27],[103,96],[104,22],[105,27],[106,17.7],[107,26],[109,71],[110,18.4],[111,24],[112,9.5],[113,57],
  [114,2.5],[115,19.5],[116,7.4],[117,18.4],[118,10.5],[119,30],[120,8.5],[121,52],[122,8.1],[123,6.2],[124,10.7],[125,26],
  [126,11.5],[127,19.5],[128,9.1],[129,35],[130,8.7],[131,23],[132,11.2],[133,2.5],[134,2.5],[135,12.8],[137,14.1],[139,47],
  [140,0.72],[141,50],[142,0.44],[143,20],[144,1.07],[145,49],[146,0.35],[147,21],[148,0.33],[149,33],[150,0.166],[152,38],
  [153,0.57],[154,31],[155,3.2],[156,22.6],[157,0.66],[158,55],[160,35],[161,0.105],[162,87],[163,0.39],[164,23],[165,0.27],
  [166,16.6],[167,0.385],[168,38],[169,1.78],[170,45],[171,0.15],[172,12.3],[173,0.163],[174,6.7],[175,0.076],[176,3.5],[178,3.2]
];

const legendLabels = ["q25 and q75", "Monthly median", "Monthly Outlayers (3*q75)",
  "Daily Rainfall Rainfall (m)", "Daily Rainfall during El Nino Years"];

const svg = d3.select("svg");
const width = parseInt(svg.attr("width"));
const height = parseInt(svg.attr("height"));

const plotLeft = 235;
const plotRight = 1274;
const dayZero = new Date(2001, 0, 1);
const dayDate = d => d3.timeDay.offset(dayZero, d);

const x = d3.scaleTime()
    .domain([dayZero, dayDate(lastDay)])
    .range([plotLeft, plotRight]);

const panels = [
    {id: 2, title: "Piura Catchment Cell number 2", top: 94, bottom: 450, yMin: 0.01, fmt: ".2f", labelX: 106,
     q75: cell2Q75, median: cell2Median, outlier: cell2Outlier, daily: [cell2Daily, cell2DailyMore], nino: cell2Nino},
    {id: 4, title: "Piura Catchment Cell number 4", top: 603, bottom: 958, yMin: 0.001, fmt: ".3f", labelX: 91,
     q75: cell4Q75, median: cell4Median, outlier: cell4Outlier, daily: [cell4Daily, cell4DailyMore], nino: cell4Nino}
];

// grey page frame
svg.append("path")
    .attr("d", `M29,${height}V20.5H${width}`)
    .attr("fill", "none")
    .attr("stroke", "#c8c8c8")
    .attr("stroke-width", 5);

panels.forEach(drawPanel);
drawLegend();

function monthOf(day) {
    return d3.bisectRight(monthStartDay, day) - 1;
}

function styleAxis(g) {
    g.select(".domain").remove();
    g.attr("font-family", null).attr("font-size", null);
    g.selectAll(".tick line").attr("stroke", "#000").attr("stroke-width", 1.3);
    g.selectAll(".tick text").attr("fill", "#000").style("font-size", "24px");
}

function drawPanel(p) {
    const y = d3.scaleLog().domain([p.yMin, 1000]).range([p.bottom, p.top]);
    const g = svg.append("g");

    svg.append("clipPath").attr("id", "clip" + p.id)
        .append("rect")
        .attr("x", plotLeft).attr("y", p.top)
        .attr("width", plotRight - plotLeft).attr("height", p.bottom - p.top);

    const plot = g.append("g").attr("clip-path", `url(#clip${p.id})`);

    //daily rainfall points
    const points = p.daily.flatMap(rows => rows.flatMap((vals, day) => vals.map(v => [day, v])));
    plot.append("g").selectAll("circle")
        .data(points)
        .enter()
        .append("circle")
        .attr("cx", d => x(dayDate(d[0])))
        .attr("cy", d => y(d[1]))
        .attr("r", 3.1)
        .attr("fill", "#d3d3d3");

    //monthly step lines, one point per day
    const days = d3.range(0, lastDay + 1);
    [[p.q75, "#000"], [p.median, "#0000ff"], [p.outlier, "#ff0000"]].forEach(([vals, color]) => {
        const line = d3.line()
            .x(d => x(dayDate(d)))
            .y(d => y(vals[monthOf(d)]));
        plot.append("path")
            .datum(days)
            .attr("d", line)
            .attr("fill", "none")
            .attr("stroke", color)
            .attr("stroke-width", 2.2);
    });

    //el nino markers
    plot.append("g").selectAll("path")
        .data(p.nino)
        .enter()
        .append("path")
        .attr("transform", d => `translate(${x(dayDate(d[0]))},${y(d[1])})`)
        .attr("d", "M-3.8,-3.8L3.8,3.8M-3.8,3.8L3.8,-3.8")
        .attr("stroke", "#404040")
        .attr("stroke-width", 2);

    //axes, ticks pointing inward
    const xTicks = monthStartDay.map(dayDate);
    g.append("g")
        .attr("transform", `translate(0,${p.bottom})`)
        .call(d3.axisBottom(x).tickValues(xTicks).tickFormat((d, i) => months[i])
            .tickSizeInner(-8).tickSizeOuter(0).tickPadding(11))
        .call(styleAxis)
        .selectAll(".tick text").attr("dx", -2);
    g.append("g")
        .attr("transform", `translate(0,${p.top})`)
        .call(d3.axisTop(x).tickValues(xTicks).tickFormat("").tickSizeInner(-8).tickSizeOuter(0))
        .call(styleAxis);

    const lo = Math.round(Math.log10(p.yMin));
    const majors = d3.range(lo, 4).map(k => Math.pow(10, k));
    const minors = d3.range(lo, 3).flatMap(k => d3.range(2, 10).map(m => m * Math.pow(10, k)));

    g.append("g")
        .attr("transform", `translate(${plotLeft},0)`)
        .call(d3.axisLeft(y).tickValues(majors).tickFormat(d3.format(p.fmt))
            .tickSizeInner(-8).tickSizeOuter(0).tickPadding(11))
        .call(styleAxis);
    g.append("g")
        .attr("transform", `translate(${plotLeft},0)`)
        .call(d3.axisLeft(y).tickValues(minors).tickFormat("").tickSizeInner(-4).tickSizeOuter(0))
        .call(styleAxis);
    g.append("g")
        .attr("transform", `translate(${plotRight},0)`)
        .call(d3.axisRight(y).tickValues(majors).tickFormat("").tickSizeInner(-8).tickSizeOuter(0))
        .call(styleAxis);
    g.append("g")
        .attr("transform", `translate(${plotRight},0)`)
        .call(d3.axisRight(y).tickValues(minors).tickFormat("").tickSizeInner(-4).tickSizeOuter(0))
        .call(styleAxis);

    g.append("rect")
        .attr("x", plotLeft).attr("y", p.top)
        .attr("width", plotRight - plotLeft).attr("height", p.bottom - p.top)
        .attr("fill", "none")
        .attr("stroke", "#000")
        .attr("stroke-width", 2);

    g.append("text")
        .attr("x", (plotLeft + plotRight) / 2)
        .attr("y", p.top - 11)
        .attr("text-anchor", "middle")
        .style("font-size", "29.7px")
        .text(p.title);

    g.append("text")
        .attr("transform", `translate(${p.labelX},${(p.top + p.bottom) / 2}) rotate(-90)`)
        .attr("text-anchor", "middle")
        .style("font-size", "31.5px")
        .text("Precipitation (mm)");
}

function drawLegend() {
    const lg = svg.append("g").attr("id", "legend");
    lg.append("rect")
        .attr("x", 663).attr("y", 1026).attr("width", 611).attr("height", 230)
        .attr("fill", "#fff").attr("stroke", "#000").attr("stroke-width", 1.5);

    const rowY = i => 1050 + i * 44.8;
    const lineColors = ["#000", "#0000ff", "#ff0000"];
    lineColors.forEach((c, i) => {
        lg.append("line")
            .attr("x1", 683).attr("x2", 727)
            .attr("y1", rowY(i)).attr("y2", rowY(i))
            .attr("stroke", c).attr("stroke-width", 3.5);
    });
    [["#d3d3d3", 3], ["#707070", 4]].forEach(([c, i]) => {
        [683, 705, 727].forEach(cx => {
            lg.append("circle").attr("cx", cx).attr("cy", rowY(i) + 2).attr("r", 3.2).attr("fill", c);
        });
    });
    legendLabels.forEach((t, i) => {
        lg.append("text")
            .attr("x", 758)
            .attr("y", rowY(i) + 10)
            .style("font-size", "29.9px")
            .text(t);
    });
}
</script>
</body>
</html>
